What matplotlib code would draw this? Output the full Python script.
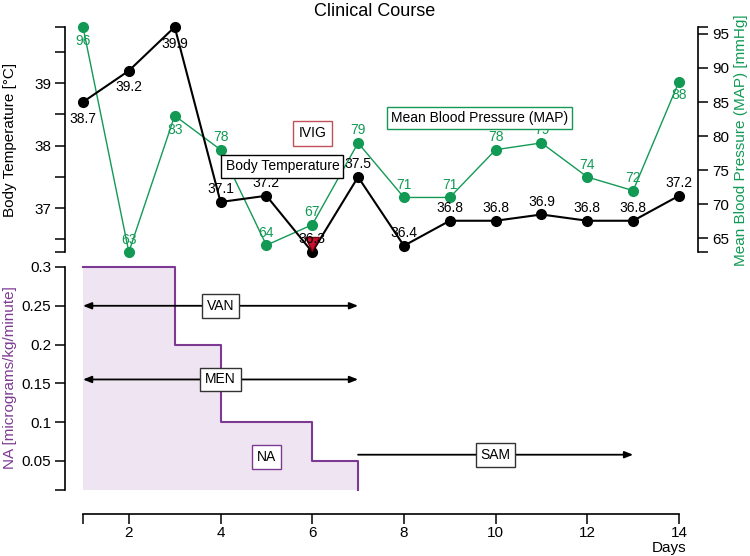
import matplotlib.pyplot as plt

plt.rcParams['font.family'] = ['Liberation Sans', 'DejaVu Sans']

# data
days = list(range(1, 15))
body_temp = [38.7, 39.2, 39.9, 37.1, 37.2, 36.3, 37.5, 36.4, 36.8, 36.8, 36.9, 36.8, 36.8, 37.2]
temp_label_below = [True, True, True] + [False] * 11
map_values = [96, 63, 83, 78, 64, 67, 79, 71, 71, 78, 79, 74, 72, 88]
map_label_below = [True, False, True] + [False] * 10 + [True]

na_days = [1, 3, 4, 6, 7, 7]
na_dose = [0.3, 0.2, 0.1, 0.05, 0.05, 0.0125]
na_base = 0.0125

# drug periods: name, start day, end day, level, double arrow
drugs = [('VAN', 1, 7, 0.25, True),
         ('MEN', 1, 7, 0.155, True),
         ('SAM', 7, 13, 0.058, False)]

ivig_day = 6
x_ticks = [1, 2, 4, 6, 8, 10, 12, 14]
x_labels = ['', '2', '4', '6', '8', '10', '12', '14']

GREEN = '#129a55'
PURPLE = '#7d3a92'
FILL = '#efe4f1'
RED = '#c8102e'

W, H = 750, 556
fig = plt.figure(figsize=(W / 100, H / 100), dpi=100)


def rect(x0, y0, x1, y1):
    return [x0 / W, 1 - y1 / H, (x1 - x0) / W, (y1 - y0) / H]


ax_t = fig.add_axes(rect(83, 27, 679, 252))
ax_m = ax_t.twinx()
ax_b = fig.add_axes(rect(83, 267, 679, 490))

tick_kw = dict(direction='out', length=7, width=1.1, labelsize=11, pad=3)
FS = 10

# --- top: body temperature
ax_t.set_xlim(1, 14)
ax_t.set_ylim(36.3, 39.9)
ax_t.plot(days, body_temp, '-o', color='black', lw=1.5, ms=7, clip_on=False, zorder=4)
for d, v, below in zip(days, body_temp, temp_label_below):
    ax_t.annotate('{:.1f}'.format(v), (d, v), textcoords='offset points',
                  xytext=(0, -12 if below else 9), ha='center', va='center',
                  fontsize=FS, color='black', zorder=6, annotation_clip=False)
ax_t.plot([ivig_day], [36.42], marker='v', color=RED, ms=10, mec='#7a0010',
          clip_on=False, zorder=5)
ax_t.text(ivig_day, 38.2, 'IVIG', ha='center', va='center', fontsize=FS,
          bbox=dict(boxstyle='square,pad=0.4', fc='white', ec='#c0505a', lw=1))
ax_t.text(5.35, 37.67, 'Body Temperature', ha='center', va='center', fontsize=FS,
          bbox=dict(boxstyle='square,pad=0.3', fc='white', ec='black', lw=1), zorder=7)

ax_t.set_yticks([36.3, 36.5, 37, 37.5, 38, 38.5, 39, 39.5, 39.9])
ax_t.set_yticklabels(['', '', '37', '', '38', '', '39', '', ''])
ax_t.tick_params(axis='y', **tick_kw)
ax_t.set_xticks([])
for s in ['top', 'bottom', 'right']:
    ax_t.spines[s].set_visible(False)
ax_t.spines['left'].set_position(('outward', 13))
ax_t.spines['left'].set_linewidth(1.2)
ax_t.patch.set_visible(False)

# --- top: mean blood pressure
ax_m.set_ylim(63, 96)
ax_m.plot(days, map_values, '-o', color=GREEN, lw=1, ms=7, clip_on=False, zorder=3)
for d, v, below in zip(days, map_values, map_label_below):
    ax_m.annotate(str(v), (d, v), textcoords='offset points',
                  xytext=(0, -10 if below else 9), ha='center', va='center',
                  fontsize=FS, color=GREEN, annotation_clip=False)
ax_m.text(9.65, 82.7, 'Mean Blood Pressure (MAP)', ha='center', va='center',
          fontsize=FS, bbox=dict(boxstyle='square,pad=0.3', fc='white', ec=GREEN, lw=1),
          zorder=7)
ax_m.set_yticks([63, 65, 70, 75, 80, 85, 90, 95, 96])
ax_m.set_yticklabels(['', '65', '70', '75', '80', '85', '90', '95', ''])
ax_m.tick_params(axis='y', **tick_kw)
for s in ['top', 'bottom', 'left']:
    ax_m.spines[s].set_visible(False)
ax_m.spines['right'].set_position(('outward', 14))
ax_m.spines['right'].set_linewidth(1.2)
ax_t.set_zorder(ax_m.get_zorder() + 1)

# --- bottom: noradrenaline dose
ax_b.set_xlim(1, 14)
ax_b.set_ylim(na_base, 0.3)
ax_b.fill_between(na_days, na_dose, na_base, step='post', color=FILL, lw=0, clip_on=False)
ax_b.plot(na_days, na_dose, color=PURPLE, lw=1.5, drawstyle='steps-post', clip_on=False)
ax_b.text(5, 0.055, 'NA', ha='center', va='center', fontsize=FS,
          bbox=dict(boxstyle='square,pad=0.35', fc='white', ec=PURPLE, lw=1))

for name, start, end, level, both in drugs:
    style = '<|-|>' if both else '-|>'
    ax_b.annotate('', xy=(end, level), xytext=(start, level),
                  arrowprops=dict(arrowstyle=style + ',head_length=0.5,head_width=0.2',
                                  color='black', lw=1.3, shrinkA=0, shrinkB=0))
    ax_b.text((start + end) / 2, level, name, ha='center', va='center', fontsize=FS,
              bbox=dict(boxstyle='square,pad=0.35', fc='white', ec='#333333', lw=1))

ax_b.set_yticks([na_base, 0.05, 0.1, 0.15, 0.2, 0.25, 0.3])
ax_b.set_yticklabels(['', '0.05', '0.1', '0.15', '0.2', '0.25', '0.3'])
ax_b.set_xticks(x_ticks)
ax_b.set_xticklabels(x_labels)
ax_b.tick_params(axis='both', **tick_kw)
ax_b.tick_params(axis='x', pad=2)
for s in ['top', 'right']:
    ax_b.spines[s].set_visible(False)
ax_b.spines['left'].set_position(('outward', 13))
ax_b.spines['bottom'].set_position(('outward', 17))
ax_b.spines['left'].set_linewidth(1.2)
ax_b.spines['bottom'].set_linewidth(1.2)
ax_b.patch.set_visible(False)

# labels and title
fig.text(375 / W, 1 - 11 / H, 'Clinical Course', ha='center', va='center', fontsize=13)
fig.text(10 / W, 1 - 140 / H, 'Body Temperature [°C]', rotation=90,
         ha='center', va='center', fontsize=11)
fig.text(741 / W, 1 - 140 / H, 'Mean Blood Pressure (MAP) [mmHg]', rotation=90,
         ha='center', va='center', fontsize=11, color=GREEN)
fig.text(10 / W, 1 - 378 / H, 'NA [micrograms/kg/minute]', rotation=90,
         ha='center', va='center', fontsize=11, color=PURPLE)
fig.text(686 / W, 1 - 548 / H, 'Days', ha='right', va='center', fontsize=11)

fig.savefig('out.png', dpi=100)
